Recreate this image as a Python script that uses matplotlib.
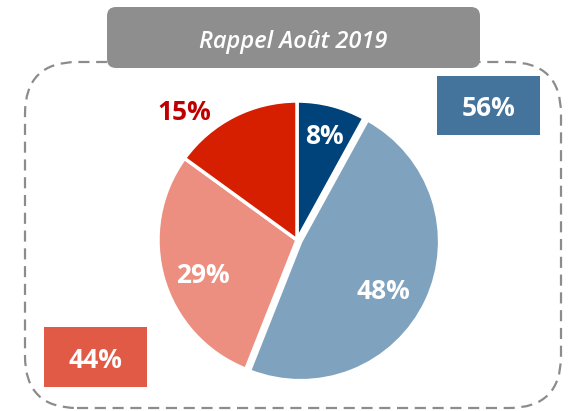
import math
import matplotlib.pyplot as plt
from matplotlib.patches import FancyBboxPatch

# data
labels = ["8%", "48%", "29%", "15%"]
values = [8, 48, 29, 15]
colors = ["#00427A", "#7FA2BE", "#EC8E80", "#D61E00"]
title = "Rappel Août 2019"
total_labels = ["56%", "44%"]
total_colors = ["#44739C", "#E05A45"]

W, H = 570, 411
fig = plt.figure(figsize=(W / 100, H / 100), dpi=100)
ax = fig.add_axes([0, 0, 1, 1])

font = "Open Sans"

# pie (pixel coordinates, y up)
cx, cy, r = 297, H - 240, 139
wedges, _ = ax.pie(values, colors=colors, startangle=90, counterclock=False,
                   radius=r, center=(cx, cy), explode=[0, 4, 0, 0],
                   wedgeprops=dict(edgecolor="white", linewidth=2.5))

# slice labels: distance (fraction of radius), angle tweak, colour
lab_dist = [0.79, 0.71, 0.72, 1.24]
lab_shift = [0, -4, 3, 14]
lab_col = ["white", "white", "white", "#C00000"]
for w, lab, d, s, c in zip(wedges, labels, lab_dist, lab_shift, lab_col):
    ang = math.radians((w.theta1 + w.theta2) / 2 + s)
    ax.text(cx + d * r * math.cos(ang), cy + d * r * math.sin(ang), lab,
            ha="center", va="center_baseline", color=c, fontsize=19,
            fontweight="bold", family=font)

# dashed frame
frame = FancyBboxPatch((25, H - 408), 536, 346,
                       boxstyle="round,pad=0,rounding_size=52",
                       fill=False, edgecolor="#8C8C8C", linewidth=1.6,
                       linestyle=(0, (5, 3)), zorder=0)
ax.add_patch(frame)

# title box
tbox = FancyBboxPatch((107, H - 68), 373, 61,
                      boxstyle="round,pad=0,rounding_size=9",
                      facecolor="#8E8E8E", edgecolor="none", zorder=3)
ax.add_patch(tbox)
ax.text(293.5, H - 39, title, ha="center", va="center_baseline",
        color="white", fontsize=17, fontstyle="italic",
        fontweight="semibold", family=font, zorder=4)

# totals
boxes = [(437, 76, 103, 59), (44, 327, 103, 60)]
for (x, y, w, h), lab, c in zip(boxes, total_labels, total_colors):
    ax.add_patch(plt.Rectangle((x, H - y - h), w, h, facecolor=c,
                               edgecolor="none", zorder=3))
    ax.text(x + w / 2, H - y - h / 2, lab, ha="center", va="center_baseline",
            color="white", fontsize=19, fontweight="bold", family=font,
            zorder=4)

ax.set_xlim(0, W)
ax.set_ylim(0, H)
ax.set_aspect("auto")
ax.axis("off")

fig.savefig("out.png", dpi=100)
